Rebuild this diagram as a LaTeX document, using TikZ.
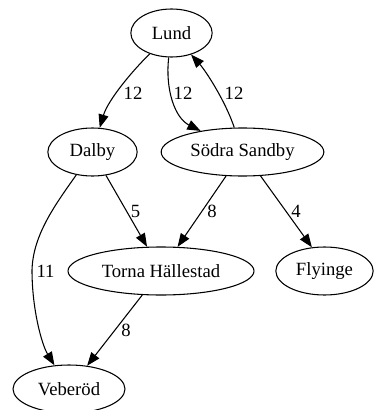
\documentclass[tikz,border=0pt]{standalone}
\usepackage{fontspec}
\setmainfont{Liberation Serif}
\usetikzlibrary{shapes.geometric,arrows.meta}
\begin{document}
\begin{tikzpicture}[x=0.75pt,y=-0.75pt,
  city/.style={ellipse, draw, line width=0.8pt, inner sep=0pt, minimum height=36pt, font=\fontsize{14}{16}\selectfont},
  lbl/.style={inner sep=0pt, font=\fontsize{14}{16}\selectfont},
  edge/.style={-{Triangle[length=10pt,width=7.5pt]}, line width=0.8pt}]
\useasboundingbox (0,0) rectangle (374,410);
\node[city, minimum width=61pt]  (lund)   at (171.5,33)  {Lund};
\node[city, minimum width=67pt]  (dalby)  at (92.5,152)  {Dalby};
\node[city, minimum width=122pt] (sodra)  at (242.5,152) {Södra Sandby};
\node[city, minimum width=139.5pt] (torna) at (161,271)  {Torna Hällestad};
\node[city, minimum width=73pt]  (flyinge) at (324.5,271) {Flyinge};
\node[city, minimum width=84pt]  (veberod) at (69,389)   {Veberöd};
% edges
\draw[edge] (lund) .. controls (133,70) and (108,100) .. (dalby);
\draw[edge] (lund) .. controls (165,90) and (175,118) .. (sodra);
\draw[edge] (sodra) .. controls (225,100) and (205,70) .. (lund);
\draw[edge] (dalby) -- (torna);
\draw[edge] (sodra) -- (torna);
\draw[edge] (sodra.-53) -- (flyinge.118);
\draw[edge] (dalby) .. controls (55,205) and (33,235) .. (32,270) .. controls (32,310) and (42,345) .. (veberod);
\draw[edge] (torna) -- (veberod);
% labels
\node[lbl] (l1) at (133,93) {12};
\node[lbl] (l2) at (183,93) {12};
\node[lbl] (l3) at (234,93) {12};
\node[lbl] (l4) at (135.5,211) {5};
\node[lbl] (l5) at (212,211) {8};
\node[lbl] (l6) at (296,211) {4};
\node[lbl] (l7) at (45.5,271) {11};
\node[lbl] (l8) at (126,330) {8};
\end{tikzpicture}
\end{document}
